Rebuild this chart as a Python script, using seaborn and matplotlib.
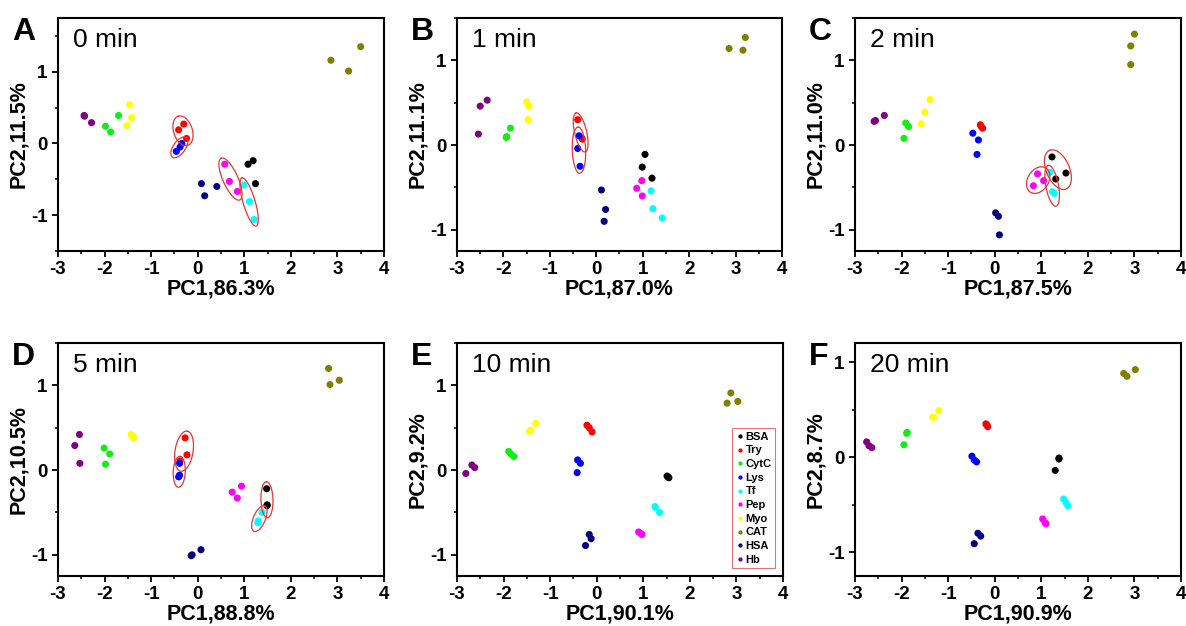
#pca_panels.py
"""PCA score plots of ten proteins at six reaction times"""
import matplotlib
matplotlib.use('Agg')
import matplotlib.pyplot as plt
from matplotlib.ticker import MultipleLocator, FormatStrFormatter
import numpy as np
import pandas as pd
import seaborn as sns

proteins = ['BSA', 'Try', 'CytC', 'Lys', 'Tf', 'Pep', 'Myo', 'CAT', 'HSA', 'Hb']
colors = ['#000000', '#ff0000', '#11ee11', '#0000ff', '#00ffff',
          '#ff00ff', '#ffff00', '#808000', '#000080', '#800080']

times = ['0 min', '1 min', '2 min', '5 min', '10 min', '20 min']
letters = ['A', 'B', 'C', 'D', 'E', 'F']
pc1_labels = ['PC1,86.3%', 'PC1,87.0%', 'PC1,87.5%', 'PC1,88.8%', 'PC1,90.1%', 'PC1,90.9%']
pc2_labels = ['PC2,11.5%', 'PC2,11.1%', 'PC2,11.0%', 'PC2,10.5%', 'PC2,9.2%', 'PC2,8.7%']

#scores: protein -> ([PC1 x3], [PC2 x3])
scores_0min = {
    'BSA': ([1.08, 1.19, 1.24], [-0.29, -0.24, -0.56]),
    'Try': ([-0.41, -0.30, -0.24], [0.19, 0.27, 0.07]),
    'CytC': ([-1.98, -1.87, -1.70], [0.24, 0.16, 0.39]),
    'Lys': ([-0.34, -0.46, -0.38], [0.00, -0.11, -0.05]),
    'Tf': ([0.99, 1.11, 1.21], [-0.58, -0.81, -1.06]),
    'Pep': ([0.58, 0.68, 0.85], [-0.29, -0.53, -0.67]),
    'Myo': ([-1.46, -1.42, -1.52], [0.54, 0.36, 0.25]),
    'CAT': ([2.86, 3.24, 3.50], [1.16, 1.01, 1.35]),
    'HSA': ([0.08, 0.15, 0.41], [-0.56, -0.73, -0.60]),
    'Hb': ([-2.44, -2.28, -2.43], [0.39, 0.29, 0.38]),
}
scores_1min = {
    'BSA': ([1.05, 0.99, 1.20], [-0.11, -0.26, -0.39]),
    'Try': ([-0.40, -0.30, -0.31], [0.30, 0.07, 0.08]),
    'CytC': ([-1.94, -1.85, -1.93], [0.09, 0.20, 0.10]),
    'Lys': ([-0.37, -0.40, -0.35], [0.11, -0.04, -0.25]),
    'Tf': ([1.18, 1.22, 1.42], [-0.54, -0.75, -0.86]),
    'Pep': ([0.87, 0.98, 0.99], [-0.51, -0.42, -0.60]),
    'Myo': ([-1.50, -1.45, -1.47], [0.51, 0.46, 0.30]),
    'CAT': ([2.86, 3.16, 3.21], [1.14, 1.12, 1.27]),
    'HSA': ([0.11, 0.20, 0.17], [-0.53, -0.76, -0.90]),
    'Hb': ([-2.50, -2.35, -2.54], [0.46, 0.53, 0.13]),
}
scores_2min = {
    'BSA': ([1.23, 1.31, 1.53], [-0.14, -0.40, -0.33]),
    'Try': ([-0.31, -0.26, -0.29], [0.24, 0.20, 0.22]),
    'CytC': ([-1.91, -1.85, -1.95], [0.26, 0.22, 0.08]),
    'Lys': ([-0.47, -0.35, -0.38], [0.14, 0.06, -0.11]),
    'Tf': ([1.18, 1.24, 1.28], [-0.32, -0.55, -0.57]),
    'Pep': ([0.92, 0.83, 1.05], [-0.34, -0.48, -0.42]),
    'Myo': ([-1.58, -1.50, -1.39], [0.25, 0.39, 0.54]),
    'CAT': ([3.00, 2.92, 2.92], [1.31, 1.17, 0.95]),
    'HSA': ([0.02, 0.08, 0.10], [-0.80, -0.84, -1.06]),
    'Hb': ([-2.59, -2.37, -2.56], [0.28, 0.35, 0.29]),
}
scores_5min = {
    'BSA': ([1.48, 1.49, 1.49], [-0.22, -0.42, -0.41]),
    'Try': ([-0.27, -0.23, -0.38], [0.38, 0.18, 0.11]),
    'CytC': ([-2.01, -1.89, -1.98], [0.26, 0.19, 0.07]),
    'Lys': ([-0.39, -0.41, -0.39], [0.08, -0.08, -0.06]),
    'Tf': ([1.38, 1.29, 1.30], [-0.50, -0.62, -0.60]),
    'Pep': ([0.74, 0.85, 0.94], [-0.26, -0.33, -0.19]),
    'Myo': ([-1.43, -1.38, -1.37], [0.42, 0.38, 0.39]),
    'CAT': ([2.81, 3.04, 2.84], [1.20, 1.06, 1.01]),
    'HSA': ([-0.14, 0.07, -0.12], [-1.01, -0.94, -1.00]),
    'Hb': ([-2.54, -2.64, -2.53], [0.42, 0.29, 0.08]),
}
scores_10min = {
    'BSA': ([1.51, 1.55, 1.53], [-0.07, -0.09, -0.08]),
    'Try': ([-0.21, -0.16, -0.10], [0.53, 0.50, 0.45]),
    'CytC': ([-1.89, -1.84, -1.78], [0.22, 0.19, 0.16]),
    'Lys': ([-0.41, -0.35, -0.42], [0.12, 0.08, -0.03]),
    'Tf': ([1.25, 1.35, 1.26], [-0.43, -0.50, -0.44]),
    'Pep': ([0.90, 0.95, 0.97], [-0.73, -0.75, -0.76]),
    'Myo': ([-1.44, -1.31, -1.42], [0.46, 0.55, 0.47]),
    'CAT': ([2.88, 2.80, 3.03], [0.91, 0.79, 0.81]),
    'HSA': ([-0.16, -0.12, -0.24], [-0.76, -0.81, -0.89]),
    'Hb': ([-2.81, -2.68, -2.62], [-0.04, 0.06, 0.03]),
}
scores_20min = {
    'BSA': ([1.38, 1.30, 1.38], [-0.01, -0.14, -0.02]),
    'Try': ([-0.19, -0.15, -0.17], [0.35, 0.32, 0.34]),
    'CytC': ([-1.88, -1.95, -1.89], [0.26, 0.13, 0.25]),
    'Lys': ([-0.49, -0.44, -0.39], [0.01, -0.03, -0.05]),
    'Tf': ([1.48, 1.53, 1.57], [-0.44, -0.48, -0.51]),
    'Pep': ([1.03, 1.08, 1.10], [-0.65, -0.69, -0.70]),
    'Myo': ([-1.33, -1.20, -1.31], [0.42, 0.49, 0.42]),
    'CAT': ([2.77, 2.84, 3.02], [0.88, 0.85, 0.92]),
    'HSA': ([-0.36, -0.30, -0.44], [-0.80, -0.83, -0.91]),
    'Hb': ([-2.75, -2.70, -2.64], [0.16, 0.12, 0.10]),
}
all_scores = [scores_0min, scores_1min, scores_2min, scores_5min, scores_10min, scores_20min]

#groups circled in red in each panel
circled = [['Try', 'Lys', 'Pep', 'Tf'], ['Try', 'Lys'], ['BSA', 'Pep', 'Tf'],
           ['Try', 'Lys', 'BSA', 'Tf'], [], []]

y_limits = [(-1.5, 1.75), (-1.25, 1.5), (-1.25, 1.5), (-1.25, 1.5), (-1.25, 1.5), (-1.25, 1.2)]

sns.set_style('ticks')
plt.rcParams['font.family'] = ['Liberation Sans', 'DejaVu Sans']
plt.rcParams['axes.unicode_minus'] = False
for key in ['text.color', 'axes.labelcolor', 'xtick.color', 'ytick.color', 'axes.edgecolor']:
    plt.rcParams[key] = 'black'

W, H = 1186, 626
fig = plt.figure(figsize=(W / 100, H / 100), dpi=100)

#axes boxes in pixels: left, top, right, bottom
boxes = [(58, 18, 384, 251), (457, 18, 782, 251), (855, 18, 1181, 251),
         (58, 343, 384, 576), (457, 343, 783, 576), (855, 343, 1181, 576)]


def ring(ax, xs, ys):
    """Red ellipse round a group, shaped in screen space"""
    pos = ax.get_position()
    sx = pos.width * W / np.ptp(ax.get_xlim())
    sy = pos.height * H / np.ptp(ax.get_ylim())
    P = np.column_stack([np.asarray(xs) * sx, np.asarray(ys) * sy])
    c = P.mean(axis=0)
    d = P - c
    vals, vecs = np.linalg.eigh(np.cov(d.T))
    u, n = vecs[:, 1], vecs[:, 0]
    a = np.abs(d @ u).max() + 7
    b = max(np.abs(d @ n).max() + 5.5, 6)
    t = np.linspace(0, 2 * np.pi, 120)
    E = c + np.outer(a * np.cos(t), u) + np.outer(b * np.sin(t), n)
    ax.plot(E[:, 0] / sx, E[:, 1] / sy, color='#e53535', lw=0.9, zorder=4)


palette = dict(zip(proteins, colors))

for i, scores in enumerate(all_scores):
    l, t, r, b = boxes[i]
    ax = fig.add_axes([l / W, 1 - b / H, (r - l) / W, (b - t) / H])

    rows = []
    for p in proteins:
        xs, ys = scores[p]
        for x, y in zip(xs, ys):
            rows.append((p, x, y))
    df = pd.DataFrame(rows, columns=['Protein', 'PC1', 'PC2'])

    sns.scatterplot(data=df, x='PC1', y='PC2', hue='Protein', hue_order=proteins,
                    palette=palette, s=26, linewidth=0, ax=ax, legend=(i == 4), zorder=3)

    ax.set_xlim(-3, 4)
    ax.set_ylim(*y_limits[i])
    ax.xaxis.set_major_locator(MultipleLocator(1))
    ax.xaxis.set_minor_locator(MultipleLocator(0.5))
    ax.yaxis.set_major_locator(MultipleLocator(1))
    ax.yaxis.set_minor_locator(MultipleLocator(0.5))
    ax.xaxis.set_major_formatter(FormatStrFormatter('%d'))
    ax.yaxis.set_major_formatter(FormatStrFormatter('%d'))
    ax.tick_params(which='major', direction='out', length=4, width=1.3, labelsize=13.5)
    ax.tick_params(which='minor', direction='out', length=2.5, width=1.1)
    for lab in ax.get_xticklabels() + ax.get_yticklabels():
        lab.set_fontweight('bold')
    for sp in ax.spines.values():
        sp.set_linewidth(1.5)
        sp.set_color('black')

    ax.set_xlabel(pc1_labels[i], fontsize=15.5, fontweight='bold', labelpad=0)
    ax.set_ylabel(pc2_labels[i], fontsize=15.5, fontweight='bold', labelpad=1)

    ax.text(0.045, 0.955, times[i], transform=ax.transAxes, fontsize=19,
            va='top', ha='left')
    fig.text((l - 46) / W, 1 - (t - 1) / H, letters[i], fontsize=23,
             fontweight='bold', va='top', ha='left')

    for p in circled[i]:
        xs, ys = scores[p]
        ring(ax, xs, ys)

    if i == 4:
        handles, labels = ax.get_legend_handles_labels()
        leg = ax.legend(handles, labels, loc='lower right', bbox_to_anchor=(0.975, 0.034),
                        prop={'weight': 'bold', 'size': 8}, markerscale=0.6,
                        frameon=True, fancybox=False, borderpad=0.3, labelspacing=0.33,
                        handletextpad=0.1, handlelength=0.8, borderaxespad=0)
        leg.get_frame().set_edgecolor('#e05050')
        leg.get_frame().set_linewidth(0.8)

fig.savefig('out.png', dpi=100)
